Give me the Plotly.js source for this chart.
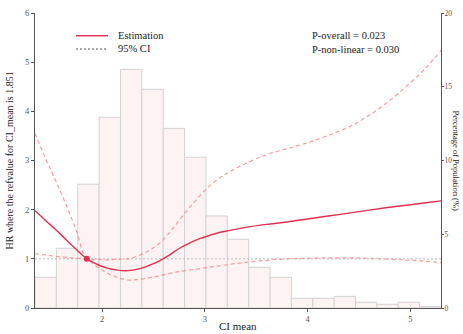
<!DOCTYPE html>
<html>
<head>
<meta charset="utf-8">
<script src="https://cdn.plot.ly/plotly-3.0.1.min.js"></script>
<style>
  html, body { margin: 0; padding: 0; background: #fff; }
  #chart { width: 463px; height: 334px; }
</style>
</head>
<body>
<div id="chart"></div>
<script>
// Restricted cubic spline fit: HR of CI_mean relative to the reference value 1.851
const refValue = 1.851;
const ciMean = [1.347, 1.45, 1.55, 1.65, 1.75, 1.851, 1.95, 2.05, 2.15, 2.25, 2.35, 2.45, 2.55, 2.65, 2.75,
                2.85, 2.95, 3.05, 3.15, 3.25, 3.4, 3.6, 3.8, 4.0, 4.2, 4.4, 4.6, 4.8, 5.0, 5.15, 5.3];
const hrEstimate = [1.98, 1.78, 1.59, 1.39, 1.19, 1.00, 0.89, 0.81, 0.77, 0.76, 0.79, 0.86, 0.95, 1.07, 1.21,
                    1.32, 1.41, 1.48, 1.54, 1.58, 1.64, 1.70, 1.75, 1.81, 1.87, 1.93, 1.99, 2.05, 2.10, 2.14, 2.18];
const hrLower = [1.10, 1.08, 1.05, 1.03, 1.01, 1.00, 0.84, 0.71, 0.62, 0.57, 0.58, 0.61, 0.65, 0.70, 0.74,
                 0.77, 0.80, 0.83, 0.86, 0.89, 0.93, 0.97, 1.00, 1.01, 1.02, 1.02, 1.01, 0.99, 0.97, 0.95, 0.92];
const hrUpper = [3.55, 3.04, 2.58, 2.10, 1.57, 1.00, 0.99, 0.98, 0.99, 1.00, 1.06, 1.16, 1.30, 1.52, 1.78,
                 2.04, 2.28, 2.49, 2.65, 2.78, 2.94, 3.12, 3.24, 3.36, 3.51, 3.68, 3.92, 4.22, 4.58, 4.88, 5.24];

// Distribution of CI_mean in the population (% per bin)
const binEdges = [1.347, 1.555, 1.763, 1.971, 2.179, 2.387, 2.595, 2.803, 3.011, 3.219, 3.427,
                  3.635, 3.843, 4.051, 4.259, 4.467, 4.675, 4.883, 5.091, 5.299];
const binPercent = [2.08, 4.05, 8.39, 12.93, 16.18, 14.83, 12.18, 10.22, 6.24, 4.66,
                    2.76, 2.08, 0.66, 0.66, 0.79, 0.39, 0.25, 0.39, 0.09];

const xTicks = [2, 3, 4, 5];
const hrTicks = [0, 1, 2, 3, 4, 5, 6];
const pctTicks = [0, 5, 10, 15, 20];
const legendLabels = ['Estimation', '95% CI'];

const xMin = binEdges[0], xMax = binEdges[binEdges.length - 1];
const binCenters = binPercent.map((_, i) => (binEdges[i] + binEdges[i + 1]) / 2);
const binWidths = binPercent.map((_, i) => binEdges[i + 1] - binEdges[i]);

const serif = 'Liberation Serif, Times New Roman, serif';
const red = '#e2304f';
const ciColor = 'rgba(246,140,140,0.85)';
const axisColor = '#555';

const traces = [
  {
    type: 'bar', x: binCenters, y: binPercent, width: binWidths,
    xaxis: 'x', yaxis: 'y',
    marker: { color: '#fdf3f3', line: { color: '#d2d2d2', width: 1 } },
    hoverinfo: 'skip'
  },
  {
    type: 'scatter', mode: 'lines', x: [xMin, xMax], y: [1, 1], yaxis: 'y2',
    line: { color: '#bdbdbd', width: 1, dash: '2px,2px' }, hoverinfo: 'skip'
  },
  {
    type: 'scatter', mode: 'lines', x: ciMean, y: hrUpper, yaxis: 'y2',
    line: { color: ciColor, width: 1.2, dash: '4px,3px', shape: 'spline' }
  },
  {
    type: 'scatter', mode: 'lines', x: ciMean, y: hrLower, yaxis: 'y2',
    line: { color: ciColor, width: 1.2, dash: '4px,3px', shape: 'spline' }
  },
  {
    type: 'scatter', mode: 'lines', x: ciMean, y: hrEstimate, yaxis: 'y2',
    line: { color: red, width: 1.4, shape: 'spline' }
  },
  {
    type: 'scatter', mode: 'markers', x: [refValue], y: [1], yaxis: 'y2',
    marker: { color: red, size: 6 }
  }
];

const axisCommon = {
  showline: true, linecolor: axisColor, linewidth: 1, color: axisColor,
  ticks: 'outside', ticklen: 3, tickcolor: axisColor,
  showgrid: false, zeroline: false,
  tickfont: { family: serif, size: 8.5, color: axisColor }
};

const textFont = (size) => ({ family: serif, size: size, color: '#222' });

const layout = {
  width: 463, height: 334,
  margin: { l: 35, r: 22, t: 13, b: 26 },
  paper_bgcolor: '#fff', plot_bgcolor: '#fff',
  bargap: 0,
  showlegend: false,
  xaxis: Object.assign({}, axisCommon, {
    range: [xMin, xMax], tickvals: xTicks, ticktext: xTicks.map(String)
  }),
  yaxis: Object.assign({}, axisCommon, {
    side: 'right', range: [0, 20], tickvals: pctTicks, ticktext: pctTicks.map(String),
    ticklen: 2, ticklabelstandoff: -1, tickfont: { family: serif, size: 7.5, color: axisColor }
  }),
  yaxis2: Object.assign({}, axisCommon, {
    side: 'left', overlaying: 'y', range: [0, 6], tickvals: hrTicks, ticktext: hrTicks.map(String)
  }),
  // legend key: line swatches
  shapes: [
    { type: 'line', xref: 'paper', yref: 'paper', x0: 0.101, x1: 0.1798, y0: 0.923, y1: 0.923,
      line: { color: red, width: 1.4 } },
    { type: 'line', xref: 'paper', yref: 'paper', x0: 0.101, x1: 0.1798, y0: 0.878, y1: 0.878,
      line: { color: '#555', width: 1, dash: '2px,2px' } }
  ],
  annotations: [
    { text: legendLabels[0], xref: 'paper', yref: 'paper', x: 0.2005, y: 0.925,
      xanchor: 'left', yanchor: 'middle', showarrow: false, font: textFont(10.5) },
    { text: legendLabels[1], xref: 'paper', yref: 'paper', x: 0.2005, y: 0.878,
      xanchor: 'left', yanchor: 'middle', showarrow: false, font: textFont(10.5) },
    { text: 'P-overall = 0.023', xref: 'paper', yref: 'paper', x: 0.678, y: 0.925,
      xanchor: 'left', yanchor: 'middle', showarrow: false, font: textFont(10.5) },
    { text: 'P-non-linear = 0.030', xref: 'paper', yref: 'paper', x: 0.678, y: 0.876,
      xanchor: 'left', yanchor: 'middle', showarrow: false, font: textFont(10.5) },
    { text: 'HR where the refvalue for CI_mean is 1.851', xref: 'paper', yref: 'paper',
      x: -0.064, y: 0.5, xanchor: 'center', yanchor: 'middle', textangle: -90, showarrow: false,
      font: textFont(10) },
    { text: 'Percentage of Population (%)', xref: 'paper', yref: 'paper',
      x: 1.0394, y: 0.5, xanchor: 'center', yanchor: 'middle', textangle: 90, showarrow: false,
      font: textFont(8.5) },
    { text: 'CI mean', xref: 'paper', yref: 'paper', x: 0.5, y: -0.061,
      xanchor: 'center', yanchor: 'middle', showarrow: false, font: textFont(11) }
  ]
};

Plotly.newPlot('chart', traces, layout, { displayModeBar: false, staticPlot: true });
</script>
</body>
</html>
